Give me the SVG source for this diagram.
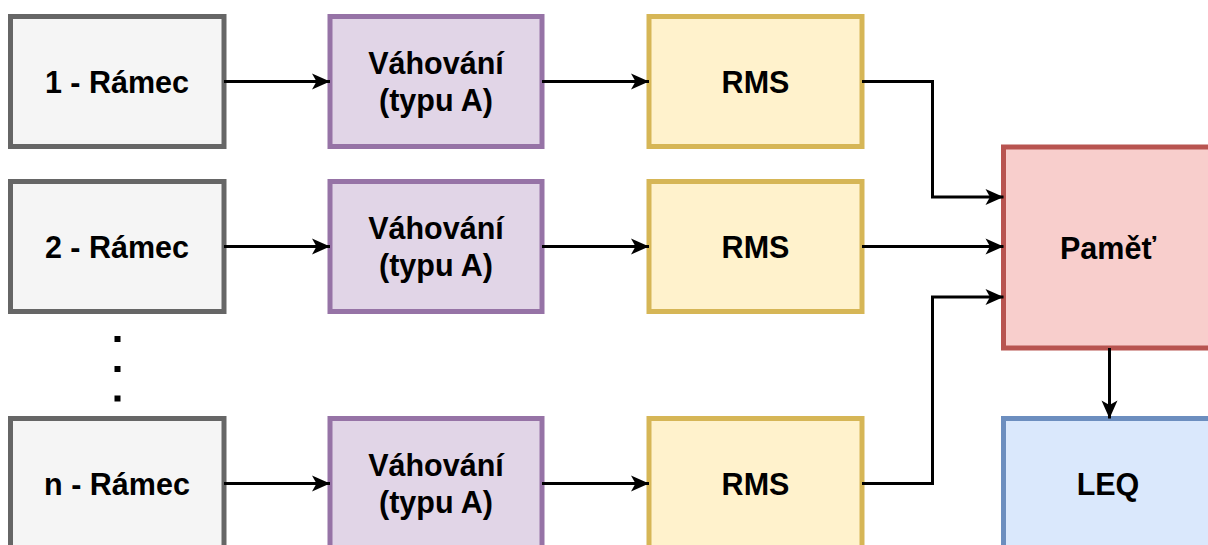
<svg xmlns="http://www.w3.org/2000/svg" width="1208" height="545" viewBox="0 0 1208 545">
  <defs>
    <style>
      .box { stroke-width: 5; }
      .frame { fill: #f5f5f5; stroke: #666666; }
      .weight { fill: #e1d5e7; stroke: #9673a6; }
      .rms { fill: #fff2cc; stroke: #d6b656; }
      .mem { fill: #f8cecc; stroke: #b85450; }
      .leq { fill: #dae8fc; stroke: #6c8ebf; }
      .lbl { font-family: "Liberation Sans", Arial, Helvetica, sans-serif; font-weight: bold; font-size: 30.5px; fill: #000000; text-anchor: middle; }
      .wire { fill: none; stroke: #000000; stroke-width: 3; }
    </style>
    <marker id="arrow" viewBox="0 0 20 18" refX="19" refY="9" markerWidth="20" markerHeight="18" markerUnits="userSpaceOnUse" orient="auto">
      <path d="M19,9 L1,1 L5.5,9 L1,17 Z" fill="#000000"/>
    </marker>
  </defs>

  <!-- row 1 -->
  <g id="frame1">
    <rect class="box frame" x="10.5" y="16.5" width="213.5" height="130"/>
    <text class="lbl" x="117" y="92.5">1 - Rámec</text>
  </g>
  <g id="weight1">
    <rect class="box weight" x="330" y="16.5" width="212" height="130"/>
    <text class="lbl" x="436" y="73.5">Váhování</text>
    <text class="lbl" x="436" y="110.5">(typu A)</text>
  </g>
  <g id="rms1">
    <rect class="box rms" x="649" y="16.5" width="213" height="130"/>
    <text class="lbl" x="755.5" y="92.5">RMS</text>
  </g>

  <!-- row 2 -->
  <g id="frame2">
    <rect class="box frame" x="10.5" y="181.5" width="213.5" height="130"/>
    <text class="lbl" x="117" y="257.5">2 - Rámec</text>
  </g>
  <g id="weight2">
    <rect class="box weight" x="330" y="181.5" width="212" height="130"/>
    <text class="lbl" x="436" y="238.5">Váhování</text>
    <text class="lbl" x="436" y="275.5">(typu A)</text>
  </g>
  <g id="rms2">
    <rect class="box rms" x="649" y="181.5" width="213" height="130"/>
    <text class="lbl" x="755.5" y="257.5">RMS</text>
  </g>

  <!-- ellipsis between row 2 and row n -->
  <g id="ellipsis" fill="#000000">
    <rect x="114.5" y="336" width="6" height="6"/>
    <rect x="114.5" y="366" width="6" height="6"/>
    <rect x="114.5" y="395.5" width="6" height="6"/>
  </g>

  <!-- row n -->
  <g id="frameN">
    <rect class="box frame" x="10.5" y="418.5" width="213.5" height="130"/>
    <text class="lbl" x="117" y="494.5">n - Rámec</text>
  </g>
  <g id="weightN">
    <rect class="box weight" x="330" y="418.5" width="212" height="130"/>
    <text class="lbl" x="436" y="475.5">Váhování</text>
    <text class="lbl" x="436" y="512.5">(typu A)</text>
  </g>
  <g id="rmsN">
    <rect class="box rms" x="649" y="418.5" width="213" height="130"/>
    <text class="lbl" x="755.5" y="494.5">RMS</text>
  </g>

  <!-- memory and result -->
  <g id="memory">
    <rect class="box mem" x="1003.5" y="147" width="212" height="201"/>
    <text class="lbl" x="1108" y="258.5">Paměť</text>
  </g>
  <g id="leq">
    <rect class="box leq" x="1003.5" y="418.5" width="212" height="140"/>
    <text class="lbl" x="1108" y="494.5">LEQ</text>
  </g>

  <!-- connectors -->
  <g id="connectors">
    <path class="wire" d="M224,81.5 H330" marker-end="url(#arrow)"/>
    <path class="wire" d="M542,81.5 H649" marker-end="url(#arrow)"/>
    <path class="wire" d="M224,246.5 H330" marker-end="url(#arrow)"/>
    <path class="wire" d="M542,246.5 H649" marker-end="url(#arrow)"/>
    <path class="wire" d="M224,483.5 H330" marker-end="url(#arrow)"/>
    <path class="wire" d="M542,483.5 H649" marker-end="url(#arrow)"/>
    <path class="wire" d="M862,81.5 H932.5 V197 H1003.5" marker-end="url(#arrow)"/>
    <path class="wire" d="M862,246.5 H1003.5" marker-end="url(#arrow)"/>
    <path class="wire" d="M862,483.5 H932.5 V297 H1003.5" marker-end="url(#arrow)"/>
    <path class="wire" d="M1109.5,348 V418.5" marker-end="url(#arrow)"/>
  </g>
</svg>
